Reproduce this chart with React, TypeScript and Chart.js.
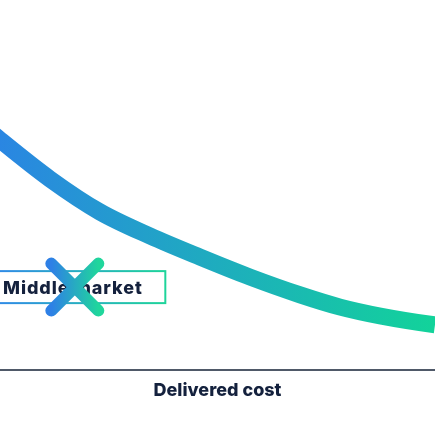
import React, { useEffect, useRef } from "react";
import { Chart, registerables } from "chart.js";

Chart.register(...registerables);

// Curve: delivered cost (x) vs. value (y)
const curveX = [-6, 0, 11.5, 23, 34.5, 46, 57.5, 69, 78.2, 87.4, 100, 106];
const curveY = [68.1, 62.2, 51.6, 42.7, 36.2, 30.5, 25.1, 20.3, 17.0, 14.6, 12.2, 11.4];

// Marker "X" position
const markerX = [17.2];
const markerY = [22.4];
const markerLabel = "Middle market";
const axisTitle = "Delivered cost";

const BLUE = "#2a86e2";
const GREEN = "#12d39a";
const NAVY = "#14213d";
const FONT = "Inter, 'Noto Sans', sans-serif";

const annotationPlugin = {
  id: "middleMarket",
  afterDatasetsDraw(chart: any) {
    const meta = chart.getDatasetMeta(1);
    if (!meta || !meta.data.length) return;
    const ctx = chart.ctx as CanvasRenderingContext2D;
    const area = chart.chartArea;
    const pt = meta.data[0];
    const cx = pt.x;
    const cy = pt.y;

    // label box
    const boxL = area.left - 1;
    const boxR = cx + 90.5;
    const boxT = cy - 16;
    const boxB = cy + 16;
    ctx.save();
    const g = ctx.createLinearGradient(boxL, 0, boxR, 0);
    g.addColorStop(0, "#2f8ae6");
    g.addColorStop(1, "#1ed49a");
    ctx.strokeStyle = g;
    ctx.lineWidth = 2;
    ctx.strokeRect(boxL, boxT, boxR - boxL, boxB - boxT);
    ctx.fillStyle = NAVY;
    ctx.font = `800 18px ${FONT}`;
    (ctx as any).letterSpacing = "0.9px";
    ctx.textBaseline = "middle";
    ctx.textAlign = "left";
    ctx.fillText(markerLabel, area.left + 3, cy + 1);
    (ctx as any).letterSpacing = "0px";

    // X marker
    const a = 23.5;
    const xg = ctx.createLinearGradient(cx - a, 0, cx + a, 0);
    xg.addColorStop(0, "#2e80e6");
    xg.addColorStop(1, "#20d69c");
    ctx.strokeStyle = xg;
    ctx.lineWidth = 12;
    ctx.lineCap = "round";
    ctx.beginPath();
    ctx.moveTo(cx - a, cy - a);
    ctx.lineTo(cx + a, cy + a);
    ctx.moveTo(cx + a, cy - a);
    ctx.lineTo(cx - a, cy + a);
    ctx.stroke();
    ctx.restore();
  },
};

export default function App() {
  const ref = useRef<HTMLCanvasElement | null>(null);

  useEffect(() => {
    if (!ref.current) return;
    const chart = new Chart(ref.current, {
      type: "line",
      data: {
        datasets: [
          {
            data: curveX.map((x, i) => ({ x, y: curveY[i] })),
            borderWidth: 17,
            borderColor: (c: any) => {
              const area = c.chart.chartArea;
              if (!area) return BLUE;
              const gr = c.chart.ctx.createLinearGradient(area.left, 0, area.right, 0);
              gr.addColorStop(0, BLUE);
              gr.addColorStop(1, GREEN);
              return gr;
            },
            pointRadius: 0,
            cubicInterpolationMode: "monotone",
            fill: false,
            clip: 0,
          },
          {
            data: markerX.map((x, i) => ({ x, y: markerY[i] })),
            showLine: false,
            pointRadius: 0,
            borderWidth: 0,
          },
        ],
      },
      options: {
        animation: false,
        responsive: true,
        maintainAspectRatio: false,
        events: [],
        layout: { padding: { left: 0, right: 0, top: 0, bottom: 33.4 } },
        plugins: { legend: { display: false }, tooltip: { enabled: false } },
        scales: {
          x: {
            type: "linear",
            min: 0,
            max: 100,
            grid: { display: false },
            ticks: { display: false },
            border: { display: true, color: "#4f5968", width: 2 },
            title: {
              display: true,
              text: axisTitle,
              color: NAVY,
              font: { family: FONT, size: 18, weight: "800" },
              padding: { top: 2, bottom: 0 },
            },
          },
          y: {
            display: false,
            min: 0,
            max: 100,
          },
        },
      },
      plugins: [annotationPlugin],
    } as any);
    return () => chart.destroy();
  }, []);

  return (
    <div style={{ position: "fixed", left: 0, top: 0, width: 435, height: 435, background: "#fff" }}>
      <canvas ref={ref} />
    </div>
  );
}
